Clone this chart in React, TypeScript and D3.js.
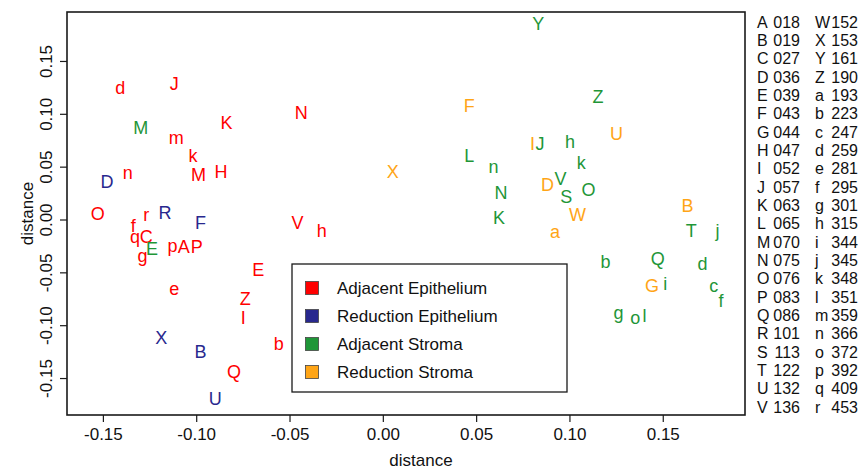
import React from "react";
import * as d3 from "d3";

// ---- data ----
const groupNames = ["Adjacent Epithelium", "Reduction Epithelium", "Adjacent Stroma", "Reduction Stroma"];
const groupColors = ["#FF0000", "#28288E", "#1F9638", "#FFA516"];

const adjEpiLabels = ["d","J","m","K","N","k","M","H","n","O","r","f","q","C","g","p","A","P","V","h","E","e","Z","I","b","Q"];
const adjEpiX = [-0.141,-0.112,-0.111,-0.084,-0.044,-0.102,-0.099,-0.087,-0.137,-0.153,-0.127,-0.134,-0.133,-0.127,-0.129,-0.113,-0.107,-0.100,-0.046,-0.033,-0.067,-0.112,-0.074,-0.075,-0.056,-0.080];
const adjEpiY = [0.125,0.129,0.078,0.092,0.101,0.061,0.043,0.045,0.044,0.006,0.005,-0.006,-0.016,-0.016,-0.034,-0.025,-0.026,-0.026,-0.003,-0.010,-0.047,-0.065,-0.075,-0.093,-0.117,-0.144];

const redEpiLabels = ["D","R","F","X","B","U"];
const redEpiX = [-0.148,-0.117,-0.098,-0.119,-0.098,-0.090];
const redEpiY = [0.036,0.007,-0.003,-0.112,-0.125,-0.169];

const adjStrLabels = ["M","E","Y","Z","L","n","J","h","k","N","K","V","S","O","T","j","b","Q","d","i","c","f","g","o","l"];
const adjStrX = [-0.130,-0.124,0.083,0.115,0.046,0.059,0.084,0.100,0.106,0.063,0.062,0.095,0.098,0.110,0.165,0.179,0.119,0.147,0.171,0.151,0.177,0.181,0.126,0.135,0.140];
const adjStrY = [0.087,-0.027,0.185,0.116,0.061,0.050,0.072,0.074,0.054,0.026,0.002,0.039,0.022,0.028,-0.010,-0.010,-0.040,-0.037,-0.042,-0.061,-0.062,-0.077,-0.088,-0.093,-0.091];

const redStrLabels = ["F","U","I","X","D","W","a","B","G"];
const redStrX = [0.046,0.125,0.080,0.005,0.088,0.104,0.092,0.163,0.144];
const redStrY = [0.108,0.081,0.072,0.045,0.033,0.005,-0.011,0.013,-0.062];

const xTicks = [-0.15, -0.10, -0.05, 0.0, 0.05, 0.10, 0.15];
const yTicks = [-0.15, -0.10, -0.05, 0.0, 0.05, 0.10, 0.15];
const xLimits = [-0.1695, 0.1938];
const yLimits = [-0.1845, 0.1968];

const idLetters1 = ["A","B","C","D","E","F","G","H","I","J","K","L","M","N","O","P","Q","R","S","T","U","V"];
const idNums1 = ["018","019","027","036","039","043","044","047","052","057","063","065","070","075","076","083","086","101","113","122","132","136"];
const idLetters2 = ["W","X","Y","Z","a","b","c","d","e","f","g","h","i","j","k","l","m","n","o","p","q","r"];
const idNums2 = ["152","153","161","190","193","223","247","259","281","295","301","315","344","345","348","351","359","366","372","392","409","453"];

const FONT = "'Liberation Sans', Arial, Helvetica, sans-serif";

const fmt = (v: number) => (Math.abs(v) < 1e-9 ? "0.00" : v.toFixed(2));

export default function App() {
  React.useEffect(() => {
    document.body.style.margin = "0";
  }, []);

  const W = 862, H = 470;
  const box = { l: 67, r: 745, t: 12, b: 415 };
  const x = d3.scaleLinear().domain(xLimits).range([box.l, box.r]);
  const y = d3.scaleLinear().domain(yLimits).range([box.b, box.t]);

  const groups = [
    { labels: adjEpiLabels, xs: adjEpiX, ys: adjEpiY },
    { labels: redEpiLabels, xs: redEpiX, ys: redEpiY },
    { labels: adjStrLabels, xs: adjStrX, ys: adjStrY },
    { labels: redStrLabels, xs: redStrX, ys: redStrY },
  ];

  const rowY = d3.scalePoint<number>().domain(d3.range(idLetters1.length)).range([22, 407]);
  const legY = d3.scalePoint<number>().domain(d3.range(groupNames.length)).range([288, 372]);

  return (
    <svg width={W} height={H} style={{ position: "absolute", left: 0, top: 0, background: "#fff" }} fontFamily={FONT}>
      <rect x={0} y={0} width={W} height={H} fill="#fff" />
      {/* points */}
      {groups.map((g, gi) =>
        g.labels.map((lab, i) => (
          <text key={`${gi}-${i}`} x={x(g.xs[i])} y={y(g.ys[i])} fill={groupColors[gi]} fontSize={18}
            textAnchor="middle" dominantBaseline="central">{lab}</text>
        ))
      )}
      {/* box */}
      <rect x={box.l} y={box.t} width={box.r - box.l} height={box.b - box.t} fill="none" stroke="#1a1a1a" strokeWidth={1.6} />
      {/* x axis */}
      {xTicks.map((t) => (
        <g key={`xt${t}`}>
          <line x1={x(t)} x2={x(t)} y1={box.b} y2={box.b + 7} stroke="#1a1a1a" strokeWidth={1.2} />
          <text x={x(t)} y={440} fontSize={17} textAnchor="middle" fill="#111">{fmt(t)}</text>
        </g>
      ))}
      <text x={(box.l + box.r) / 2 + 15} y={466} fontSize={17} textAnchor="middle" fill="#111">distance</text>
      {/* y axis */}
      {yTicks.map((t) => (
        <g key={`yt${t}`}>
          <line x1={box.l} x2={box.l - 7} y1={y(t)} y2={y(t)} stroke="#1a1a1a" strokeWidth={1.2} />
          <text transform={`translate(52,${y(t)}) rotate(-90)`} fontSize={17} textAnchor="middle" fill="#111">{fmt(t)}</text>
        </g>
      ))}
      <text transform={`translate(33,${(box.t + box.b) / 2}) rotate(-90)`} fontSize={17} textAnchor="middle" fill="#111">distance</text>
      {/* legend */}
      <rect x={292} y={264} width={275} height={128} fill="#fff" stroke="#1a1a1a" strokeWidth={1.3} />
      {groupNames.map((n, i) => (
        <g key={n}>
          <rect x={305.5} y={legY(i)! - 6.5} width={13} height={13} fill={groupColors[i]} stroke="#444" strokeWidth={0.8} />
          <text x={337} y={legY(i)!} fontSize={17} dominantBaseline="central" fill="#111">{n}</text>
        </g>
      ))}
      {/* id list */}
      {idLetters1.map((l, i) => (
        <g key={`id${i}`} fontSize={16} fill="#111">
          <text x={757} y={rowY(i)!} dominantBaseline="central">{l}</text>
          <text x={800} y={rowY(i)!} dominantBaseline="central" textAnchor="end">{idNums1[i]}</text>
          <text x={815} y={rowY(i)!} dominantBaseline="central">{idLetters2[i]}</text>
          <text x={858} y={rowY(i)!} dominantBaseline="central" textAnchor="end">{idNums2[i]}</text>
        </g>
      ))}
    </svg>
  );
}
